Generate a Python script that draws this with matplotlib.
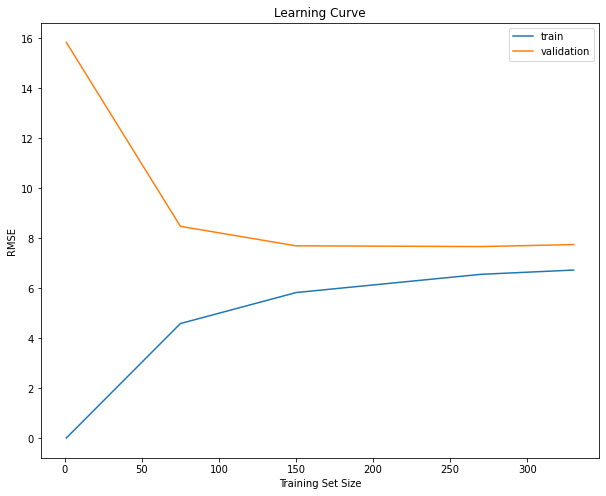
import matplotlib
matplotlib.use("Agg")
import matplotlib.pyplot as plt

train_sizes = [1, 75, 150, 270, 330]
train_rmse = [0.0, 4.58, 5.82, 6.55, 6.72]
val_rmse = [15.83, 8.47, 7.69, 7.66, 7.74]

fig, ax = plt.subplots(figsize=(10, 7.85), dpi=72)
ax.plot(train_sizes, train_rmse, label="train")
ax.plot(train_sizes, val_rmse, label="validation")
ax.set_title("Learning Curve")
ax.set_xlabel("Training Set Size")
ax.set_ylabel("RMSE")
ax.legend(loc="upper right")
fig.savefig("out.png", dpi=72, bbox_inches="tight")
